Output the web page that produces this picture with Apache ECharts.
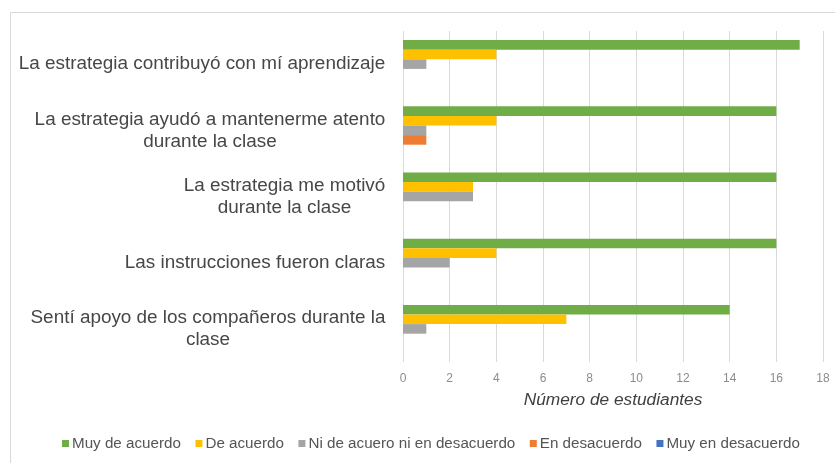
<!DOCTYPE html>
<html>
<head>
<meta charset="utf-8">
<script src="https://cdn.jsdelivr.net/npm/echarts@6/dist/echarts.min.js"></script>
<style>
html, body { margin: 0; padding: 0; background: #fff; }
#e_chart_1 { width: 835px; height: 463px; }
</style>
</head>
<body>
<div id="e_chart_1"></div>
<script>
var categories = [
	'La estrategia contribuyó con mí aprendizaje',
	'La estrategia ayudó a mantenerme atento\ndurante la clase',
	'La estrategia me motivó\ndurante la clase',
	'Las instrucciones fueron claras',
	'Sentí apoyo de los compañeros durante la\nclase'
];
var seriesNames = ['Muy de acuerdo', 'De acuerdo', 'Ni de acuero ni en desacuerdo', 'En desacuerdo', 'Muy en desacuerdo'];
var muyDeAcuerdo = [17, 16, 16, 16, 14];
var deAcuerdo = [4, 4, 3, 4, 7];
var niAcuerdo = [1, 1, 3, 2, 1];
var enDesacuerdo = [0, 1, 0, 0, 0];
var muyEnDesacuerdo = [0, 0, 0, 0, 0];
var xTicks = [0, 2, 4, 6, 8, 10, 12, 14, 16, 18];

var dom = document.getElementById("e_chart_1");
var myChart = echarts.init(dom);

var labelFont = 'Liberation Sans';
var labelSize = 18.9;

// width of each label block, so that wrapped lines can be centred inside it
var ctx = document.createElement('canvas').getContext('2d');
ctx.font = labelSize + 'px "' + labelFont + '"';
var rich = {};
categories.forEach(function (c, i) {
	var w = 0;
	c.split('\n').forEach(function (line) {
		w = Math.max(w, ctx.measureText(line).width);
	});
	rich['c' + i] = {
		width: Math.ceil(w) + 1,
		align: 'center',
		fontSize: labelSize,
		fontFamily: labelFont,
		color: '#474747',
		lineHeight: 22
	};
});

var colors = ['#70ad47', '#ffc000', '#a5a5a5', '#ed7d31', '#4472c4'];
var values = [muyDeAcuerdo, deAcuerdo, niAcuerdo, enDesacuerdo, muyEnDesacuerdo];

var series = seriesNames.map(function (name, i) {
	return {
		name: name,
		type: 'bar',
		barWidth: 9.6,
		barGap: 0,
		itemStyle: { color: colors[i] },
		data: values[i]
	};
});

var option = {
	color: colors,
	animation: false,
	graphic: [{
		type: 'rect',
		shape: { x: 10.5, y: 12.5, width: 840, height: 470 },
		style: { fill: 'none', stroke: '#d9d9d9', lineWidth: 1 },
		silent: true
	}],
	legend: {
		data: seriesNames,
		left: 62,
		top: 436,
		padding: 0,
		icon: 'rect',
		itemWidth: 7,
		itemHeight: 7,
		itemGap: 14.5,
		textStyle: {
			color: '#555',
			fontSize: 15.2,
			fontFamily: labelFont,
			padding: [0, 0, 0, -2]
		}
	},
	grid: {
		left: 403,
		right: 12,
		top: 31,
		bottom: 101,
		containLabel: false
	},
	xAxis: {
		type: 'value',
		min: 0,
		max: 18,
		interval: 2,
		name: 'Número de estudiantes',
		nameLocation: 'middle',
		nameGap: 30,
		nameTextStyle: {
			color: '#404040',
			fontStyle: 'italic',
			fontSize: 17.3,
			fontFamily: labelFont
		},
		axisLine: { show: false },
		axisTick: { show: false },
		axisLabel: {
			color: '#8c8c8c',
			fontSize: 12,
			fontFamily: labelFont,
			margin: 11,
			formatter: function (v) {
				return xTicks.indexOf(v) >= 0 ? String(v) : '';
			}
		},
		splitLine: {
			show: true,
			lineStyle: { color: '#d9d9d9', width: 1 }
		}
	},
	yAxis: {
		type: 'category',
		inverse: true,
		data: categories,
		axisLine: { show: false },
		axisTick: { show: false },
		splitLine: { show: false },
		axisLabel: {
			margin: 17,
			align: 'right',
			rich: rich,
			formatter: function (value, idx) {
				return value.split('\n').map(function (line) {
					return '{c' + idx + '|' + line + '}';
				}).join('\n');
			}
		}
	},
	series: series
};

myChart.setOption(option, true);
</script>
</body>
</html>
